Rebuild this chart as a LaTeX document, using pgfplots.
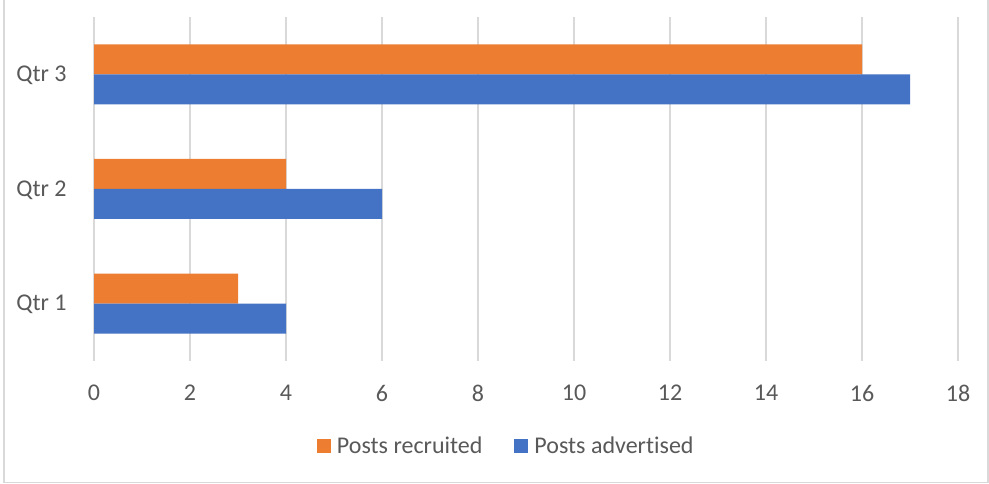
\documentclass[border=0pt]{standalone}
\usepackage{fontspec}
\setmainfont{Carlito}[Ligatures=CommonOff]
\usepackage{pgfplots}
\pgfplotsset{compat=1.18}
\definecolor{cOrange}{HTML}{ED7D31}
\definecolor{cBlue}{HTML}{4472C4}
\definecolor{cGrid}{HTML}{D9D9D9}
\definecolor{cText}{HTML}{595959}
\newcommand{\lbl}{\fontsize{24bp}{28bp}\selectfont}
\begin{document}
\begin{tikzpicture}
\path[use as bounding box] (0bp,0bp) rectangle (989bp,484bp);
\draw[cGrid,line width=1.2bp] (4bp,484bp) -- (4bp,1.5bp) -- (988bp,1.5bp) -- (988bp,484bp);
\begin{axis}[
  at={(94bp,123bp)}, anchor=south west,
  scale only axis, width=864bp, height=344bp,
  xmin=0, xmax=18, ymin=0.5, ymax=3.5,
  xtick={0,2,...,18}, ytick={1,2,3},
  yticklabels={Qtr 1,Qtr 2,Qtr 3},
  axis line style={draw=none},
  major tick style={draw=none},
  xmajorgrids, grid style={cGrid,line width=1.5bp},
  /pgf/number format/assume math mode=true,
  tick label style={font=\lbl, text=cText, inner sep=0pt},
  xticklabel style={anchor=center, yshift=-32bp},
  yticklabel style={anchor=east, xshift=-23bp, yshift=-1bp},
  xbar, bar width=30bp,
  legend columns=2,
  legend style={draw=none, font=\lbl, text=cText,
    at={(axis description cs:0.476,-0.247)}, anchor=center,
    /tikz/every even column/.append style={column sep=32bp},
    nodes={inner sep=0pt, text=cText}},
  legend image code/.code={\fill[#1] (0bp,-7bp) rectangle (14bp,7bp);},
  legend cell align=left,
]
\addplot[fill=cOrange, draw=none, bar shift=15bp] coordinates {(3,1) (4,2) (16,3)};
\addlegendentry{\hspace{6bp}Posts recruited}
\addplot[fill=cBlue, draw=none, bar shift=-15bp] coordinates {(4,1) (6,2) (17,3)};
\addlegendentry{\hspace{6bp}Posts advertised}
\end{axis}
\end{tikzpicture}
\end{document}
